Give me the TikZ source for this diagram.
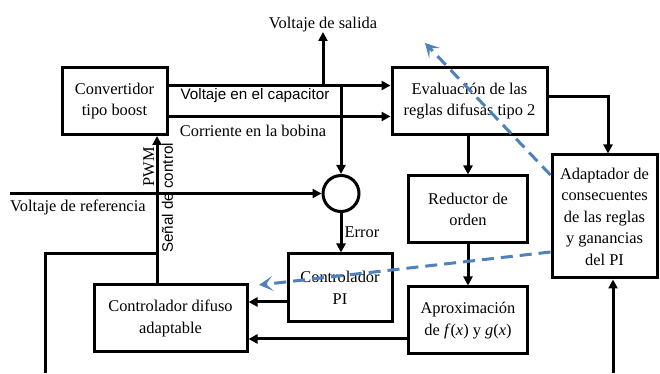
\documentclass[tikz,border=0pt]{standalone}
\usepackage{fontspec}
\setmainfont{Liberation Serif}
\setsansfont{Liberation Sans}
\usepackage{tikz}
\usetikzlibrary{arrows.meta}
\definecolor{azulGuion}{RGB}{79,129,189}

\begin{document}
\begin{tikzpicture}[x=1pt, y=1pt, font=\fontsize{16.4}{21.5}\selectfont,
  bloque/.style={draw, line width=3pt, align=center, inner sep=0pt, minimum height=67pt},
  linea/.style={line width=3pt},
  flecha/.style={line width=3pt, -{Triangle[length=9pt,width=9pt]}},
  guion/.style={azulGuion, line width=3pt, dash pattern=on 12pt off 7pt,
                -{Stealth[length=14pt,width=15pt,inset=7pt]}},
  letraSans/.style={font=\sffamily\fontsize{15.2}{18}\selectfont}]

\useasboundingbox (0,0) rectangle (660,374);

\node[bloque, minimum width=105pt] (conv) at (114.5,273) {Convertidor\\tipo boost};
\node[bloque, minimum width=155pt] (eval) at (469.5,273) {Evaluación de las\\reglas difusas tipo 2};
\node[bloque, minimum width=119pt] (red) at (468,164.5) {Reductor de\\orden};
\node[bloque, minimum width=119pt] (aprox) at (468,53.5) {Aproximación\\de \textit{f}(\textit{x}) y \textit{g}(\textit{x})};
\node[bloque, minimum width=105pt, minimum height=123pt] (adapt) at (604.5,157.5)
  {Adaptador de\\consecuentes\\de las reglas\\y ganancias\\del PI};
\node[bloque, minimum width=104pt, minimum height=68pt] (pi) at (340,86) {Controlador\\PI};
\node[bloque, minimum width=153pt] (difuso) at (170.5,55.5) {Controlador difuso\\adaptable};
\node[circle, draw, line width=3pt, minimum size=36pt, inner sep=0pt] (sum) at (341,180.5) {};

\node[anchor=south, inner sep=0pt] (salida) at (323,342) {Voltaje de salida};
\node[letraSans] (vcap) at (255,278) {Voltaje en el capacitor};
\node (ibob) at (253,243) {Corriente en la bobina};
\node[anchor=north west, inner sep=0pt] (reflbl) at (10,174) {Voltaje de referencia};
\node[rotate=90] (pwmlbl) at (149,207) {PWM};
\node[rotate=90, letraSans] (senal) at (167.5,176) {Señal de control};
\node (err) at (362,142) {Error};

\coordinate (refin) at (10,180.5);
\coordinate (lazo) at (45,120);
\coordinate (salizq) at (45,1);
\coordinate (salder) at (613,1);
\coordinate (g1) at (425,331);
\coordinate (g2) at (259,89);

\draw[flecha] ([yshift=15.5pt]conv.east) coordinate (vc) -- (vc -| eval.west);
\draw[flecha] ([yshift=-15.5pt]conv.east) coordinate (ib) -- (ib -| eval.west);
\draw[flecha] (vc -| salida) -- (salida.south);
\draw[flecha] (vc -| sum) -- (sum.north);
\draw[flecha] (refin) -- (sum.west);
\draw[flecha] (sum.south) -- (sum.south |- pi.north);
\draw[flecha] ([xshift=-13.5pt]difuso.north) coordinate (pwm) -- (pwm |- conv.south);
\draw[linea] (lazo -| pwm) -- (lazo) -- (salizq);
\draw[flecha] (salder) -- (salder |- adapt.south);
\draw[flecha] ([yshift=4pt]eval.east) -| ([xshift=3.5pt]adapt.north);
\draw[flecha] (red.north |- eval.south) -- (red.north);
\draw[flecha] (red.south) -- (aprox.north);
\draw[flecha] ([yshift=-14pt]pi.west) coordinate (pio) -- (pio -| difuso.east);
\draw[flecha] ([yshift=-18.5pt]aprox.west) coordinate (apo) -- (apo -| difuso.east);

\draw[guion] ([yshift=41.5pt]adapt.west) -- (g1);
\draw[guion] ([yshift=-35.5pt]adapt.west) -- (g2);

\end{tikzpicture}
\end{document}
